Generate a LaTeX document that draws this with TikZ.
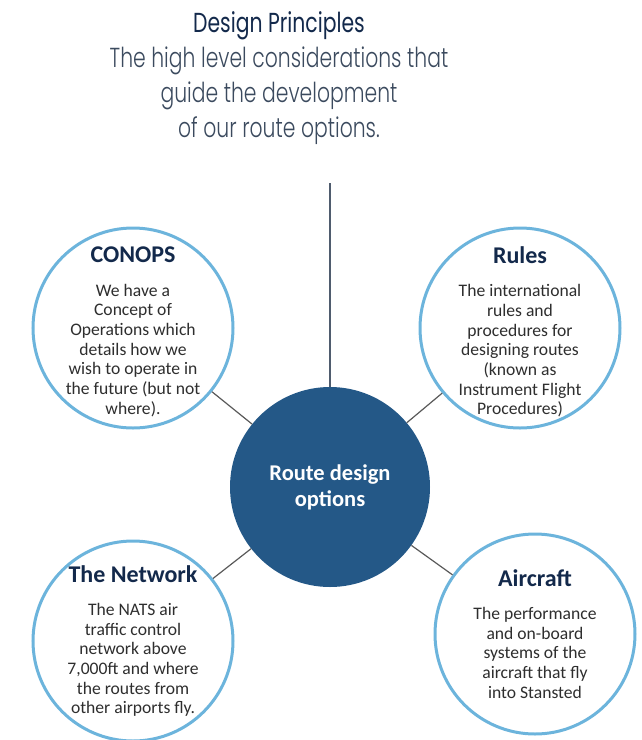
\documentclass[tikz,border=0pt]{standalone}
\usepackage{fontspec}
\usepackage{xcolor}
\setmainfont{Carlito}
\newfontfamily\headfont{Poppins}[FakeStretch=0.74]
\newfontfamily\sublightfont{Poppins}[UprightFont={* Light},FakeStretch=0.74]

\definecolor{navy}{HTML}{13294B}
\definecolor{subnavy}{HTML}{3B4A5E}
\definecolor{ringblue}{HTML}{6CB4DC}
\definecolor{hubblue}{HTML}{245887}
\definecolor{bodygray}{HTML}{2E2E2E}

\tikzset{
    bubble/.style={circle, draw=ringblue, line width=3pt, fill=white,
        minimum size=200pt, inner sep=0pt},
    hub/.style={circle, fill=hubblue, minimum size=200pt, inner sep=0pt},
    bubbletext/.style={align=center, text=bodygray, inner sep=0pt,
        font=\fontsize{17.6}{19.7}\selectfont},
    hubtext/.style={align=center, text=white, inner sep=0pt,
        font=\fontsize{22.5}{26}\selectfont\bfseries},
    spoke/.style={draw=black!65, line width=1.2pt},
    stem/.style={draw=subnavy!90, line width=1.2pt},
    subline/.style={anchor=base, text=subnavy, inner sep=0pt,
        font=\fontsize{27.5}{30}\selectfont\sublightfont},
}
\newcommand{\bubbletitle}[1]{{\fontsize{24}{28}\selectfont\bfseries\color{navy}#1}\\[13.5pt]}

\begin{document}
\begin{tikzpicture}[x=1pt, y=-1pt]
    \useasboundingbox (0,0) rectangle (641,740);

    % heading
    \node (heading) at (279,32) [anchor=base, inner sep=0pt, text=navy,
        font=\fontsize{27.5}{30}\selectfont\headfont] {Design Principles};
    \foreach \txt [count=\i] in {The high level considerations that,
        guide the development, of our route options.}
        \node (sub\i) at (279,32+35*\i) [subline] {\txt};

    % hub and the four principles
    \node (hub) at (330,487) [hub] {};
    \node (conops) at (133,328) [bubble] {};
    \node (rules) at (520,328) [bubble] {};
    \node (network) at (133,641) [bubble] {};
    \node (aircraft) at (535,634) [bubble] {};

    \coordinate (stemtop) at (330,183);
    \draw[stem] (stemtop) -- (hub);
    \foreach \b in {conops, rules, network, aircraft}
        \draw[spoke] (\b) -- (hub);

    \node (hub-t) at (hub) [hubtext] {Route design\\options};
    \node (conops-t) at (conops) [bubbletext, yshift=-4pt] {\bubbletitle{CONOPS}
        We have a\\Concept of\\Operations which\\details how we\\
        wish to operate in\\the future (but not\\where).};
    \node (rules-t) at (rules) [bubbletext, yshift=-4pt] {\bubbletitle{Rules}
        The international\\rules and\\procedures for\\designing routes\\
        (known as\\Instrument Flight\\Procedures)};
    \node (network-t) at (network) [bubbletext] {\bubbletitle{The Network}
        The NATS air\\traffic control\\network above\\7,000ft and where\\
        the routes from\\other airports fly.};
    \node (aircraft-t) at (aircraft) [bubbletext] {\bubbletitle{Aircraft}
        The performance\\and on-board\\systems of the\\aircraft that fly\\
        into Stansted};
\end{tikzpicture}
\end{document}
